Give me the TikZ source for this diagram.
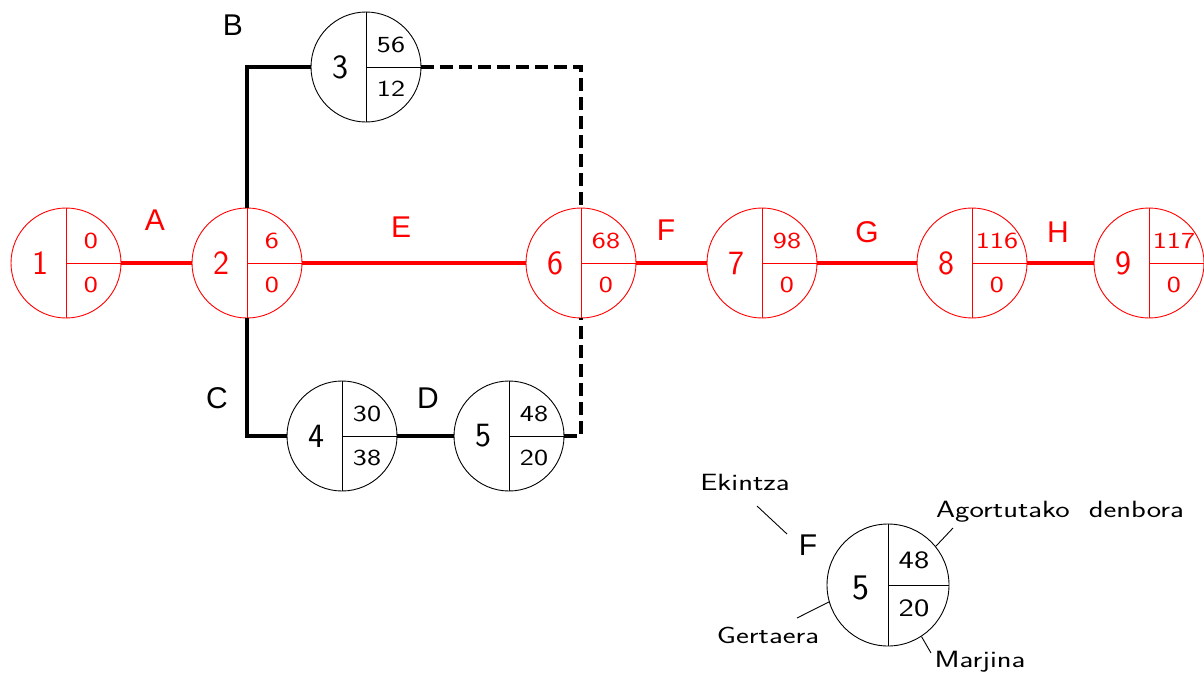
\documentclass[tikz,border=0pt]{standalone}
\usepackage{fontspec}
\newfontfamily\arialf{Liberation Sans}
\newfontfamily\cadf[FakeStretch=1.3]{Latin Modern Sans}
\begin{document}
\begin{tikzpicture}[x=1pt,y=-1pt,
  ev/.style={circle, draw, minimum size=110pt, inner sep=0pt, line width=0.9pt},
  bignum/.style={font=\sffamily\fontsize{34}{34}\selectfont, inner sep=0pt},
  smallnum/.style={font=\cadf\fontsize{23}{23}\selectfont, inner sep=0pt},
  act/.style={font=\arialf\fontsize{30}{30}\selectfont, inner sep=0pt},
  legtext/.style={font=\cadf\fontsize{23.5}{23.5}\selectfont, inner sep=0pt},
  crit/.style={red, line width=4pt},
  noncrit/.style={black, line width=4pt},
  dum/.style={black, line width=3.5pt, dash pattern=on 13pt off 6pt},
  leader/.style={black, line width=0.9pt}]
\useasboundingbox (0,0) rectangle (1204,675);
\newcommand\myev[7]{%
  \node[ev, draw=#4] (#1) at (#2,#3) {};
  \draw[#4, line width=0.9pt] (#1.north) -- (#1.south) (#1.center) -- (#1.east);
  \node[bignum, text=#4] (#1n) at ([xshift=-26pt]#1.center) {#5};
  \node[smallnum, text=#4] (#1t) at ([xshift=25pt,yshift=22pt]#1.center) {#6};
  \node[smallnum, text=#4] (#1b) at ([xshift=25pt,yshift=-22pt]#1.center) {#7};
}
\myev{e1}{66}{263}{red}{1}{0}{0}
\myev{e2}{247}{263}{red}{2}{6}{0}
\myev{e3}{366}{67}{black}{3}{56}{12}
\myev{e4}{342}{436}{black}{4}{30}{38}
\myev{e5}{509}{436}{black}{5}{48}{20}
\myev{e6}{581}{263}{red}{6}{68}{0}
\myev{e7}{762}{263}{red}{7}{98}{0}
\myev{e8}{972}{263}{red}{8}{116}{0}
\myev{e9}{1149}{263}{red}{9}{117}{0}
% connectors
\draw[crit] (e1.east) -- (e2.west);
\draw[crit] (e2.east) -- (e6.west);
\draw[crit] (e6.east) -- (e7.west);
\draw[crit] (e7.east) -- (e8.west);
\draw[crit] (e8.east) -- (e9.west);
\draw[noncrit] (e2.north) |- (e3.west);
\draw[noncrit] (e2.south) |- (e4.west);
\draw[noncrit] (e4.east) -- (e5.west);
\draw[dum] (e3.east) -| (e6.north);
\draw[dum] (e5.east) -| (e6.south);
% activity labels
\node[act, text=red] (lA) at (155,220) {A};
\node[act] (lB) at (233,25) {B};
\node[act] (lC) at (217,398) {C};
\node[act] (lD) at (428,398) {D};
\node[act, text=red] (lE) at (401,227) {E};
\node[act, text=red] (lF) at (666,230) {F};
\node[act, text=red] (lG) at (867,232) {G};
\node[act, text=red] (lH) at (1058,232) {H};
% legend
\node[ev, minimum size=122pt] (lg) at (888,585) {};
\draw[line width=0.9pt] (lg.north) -- (lg.south) (lg.center) -- (lg.east);
\node[bignum, font=\sffamily\fontsize{36}{36}\selectfont] (lgn) at ([xshift=-27pt,yshift=-3pt]lg.center) {5};
\node[font=\cadf\fontsize{25}{25}\selectfont, inner sep=0pt] (lgt) at ([xshift=26pt,yshift=25pt]lg.center) {48};
\node[font=\cadf\fontsize{25}{25}\selectfont, inner sep=0pt] (lgb) at ([xshift=26pt,yshift=-23pt]lg.center) {20};
\node[act] (lgF) at (808,545) {F};
\node[legtext] (tEk) at (745,482) {Ekintza};
\node[legtext] (tAg) at (1060,512) {Agortutako\ \ denbora};
\node[legtext] (tGe) at (768,635) {Gertaera};
\node[legtext] (tMa) at (980,662) {Marjina};
\coordinate (ekA) at (757,506);
\coordinate (ekB) at (787,534);
\coordinate (agA) at (953,528);
\coordinate (geA) at (797,618);
\coordinate (maA) at (931,653);
\draw[leader] (ekA) -- (ekB);
\draw[leader] (lg.39) -- (agA);
\draw[leader] (lg.196) -- (geA);
\draw[leader] (lg.-57) -- (maA);
\end{tikzpicture}
\end{document}
